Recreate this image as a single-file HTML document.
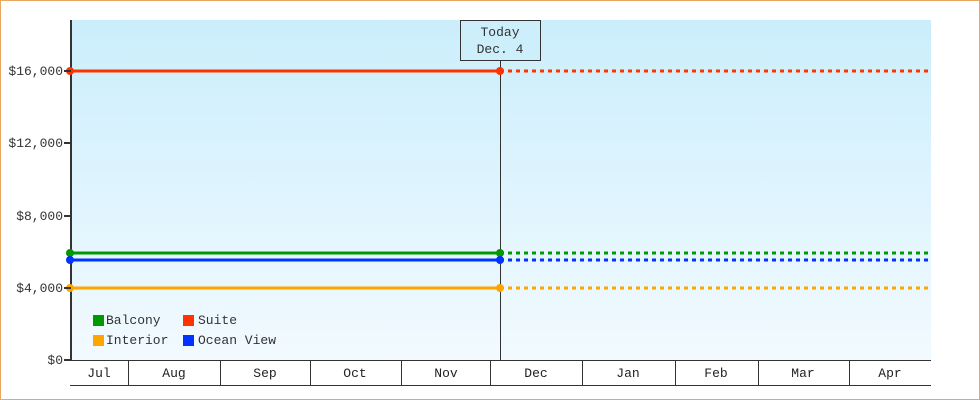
<!DOCTYPE html><html><head><style>body{margin:0}svg{display:block}</style></head><body>
<svg width="980" height="400" xmlns="http://www.w3.org/2000/svg" font-family="Liberation Mono, monospace" font-size="13">
<defs><linearGradient id="g" x1="0" y1="0" x2="0" y2="1"><stop offset="0" stop-color="#cbeefc"/><stop offset="1" stop-color="#f2faff"/></linearGradient></defs>
<rect x="0.5" y="0.5" width="979" height="399" fill="#fff" stroke="#e8a860"/>
<rect x="71" y="20" width="860" height="340" fill="url(#g)"/>
<line x1="71" y1="20" x2="71" y2="361" stroke="#333" stroke-width="2"/>
<g stroke-width="3" fill="none">
<line x1="71" y1="71" x2="500" y2="71" stroke="#ff3300"/>
<line x1="500" y1="71" x2="931" y2="71" stroke="#ff3300" stroke-dasharray="4 4"/>
<line x1="71" y1="253" x2="500" y2="253" stroke="#009900"/>
<line x1="500" y1="253" x2="931" y2="253" stroke="#009900" stroke-dasharray="4 4"/>
<line x1="71" y1="260" x2="500" y2="260" stroke="#0033ff"/>
<line x1="500" y1="260" x2="931" y2="260" stroke="#0033ff" stroke-dasharray="4 4"/>
<line x1="71" y1="288" x2="500" y2="288" stroke="#ffa500"/>
<line x1="500" y1="288" x2="931" y2="288" stroke="#ffa500" stroke-dasharray="4 4"/>
</g>
<line x1="500.5" y1="60" x2="500.5" y2="360" stroke="#333"/>
<g><circle cx="70" cy="71" r="4" fill="#ff3300"/><circle cx="500" cy="71" r="4" fill="#ff3300"/>
<circle cx="70" cy="253" r="4" fill="#009900"/><circle cx="500" cy="253" r="4" fill="#009900"/>
<circle cx="70" cy="260" r="4" fill="#0033ff"/><circle cx="500" cy="260" r="4" fill="#0033ff"/>
<circle cx="70" cy="288" r="4" fill="#ffa500"/><circle cx="500" cy="288" r="4" fill="#ffa500"/></g>
<rect x="460.5" y="20.5" width="80" height="40" fill="#cdeffc" stroke="#333"/>
<text x="500" y="36" text-anchor="middle" fill="#333">Today</text>
<text x="500" y="53" text-anchor="middle" fill="#333">Dec. 4</text>
<line x1="70" y1="360.5" x2="931" y2="360.5" stroke="#333"/>
<line x1="70" y1="385.5" x2="931" y2="385.5" stroke="#333"/>
<g stroke="#333" stroke-width="2"><line x1="64" y1="71" x2="71" y2="71"/><line x1="64" y1="143" x2="71" y2="143"/><line x1="64" y1="216" x2="71" y2="216"/><line x1="64" y1="288" x2="71" y2="288"/><line x1="64" y1="360" x2="71" y2="360"/></g>
<g text-anchor="end" fill="#333"><text x="63" y="75">$16,000</text><text x="63" y="147">$12,000</text><text x="63" y="220">$8,000</text><text x="63" y="292">$4,000</text><text x="63" y="364">$0</text></g>
<g stroke="#333"><line x1="128.5" y1="360" x2="128.5" y2="385"/><line x1="220.5" y1="360" x2="220.5" y2="385"/><line x1="310.5" y1="360" x2="310.5" y2="385"/><line x1="401.5" y1="360" x2="401.5" y2="385"/><line x1="490.5" y1="360" x2="490.5" y2="385"/><line x1="582.5" y1="360" x2="582.5" y2="385"/><line x1="675.5" y1="360" x2="675.5" y2="385"/><line x1="758.5" y1="360" x2="758.5" y2="385"/><line x1="849.5" y1="360" x2="849.5" y2="385"/></g>
<g text-anchor="middle" fill="#222"><text x="99" y="377">Jul</text><text x="174" y="377">Aug</text><text x="265" y="377">Sep</text><text x="355" y="377">Oct</text><text x="446" y="377">Nov</text><text x="536" y="377">Dec</text><text x="628" y="377">Jan</text><text x="716" y="377">Feb</text><text x="803" y="377">Mar</text><text x="890" y="377">Apr</text></g>
<rect x="93" y="315" width="11" height="11" fill="#009900"/><text x="106" y="324" fill="#333">Balcony</text>
<rect x="183" y="315" width="11" height="11" fill="#ff3300"/><text x="198" y="324" fill="#333">Suite</text>
<rect x="93" y="335" width="11" height="11" fill="#ffa500"/><text x="106" y="344" fill="#333">Interior</text>
<rect x="183" y="335" width="11" height="11" fill="#0033ff"/><text x="198" y="344" fill="#333">Ocean View</text>
</svg></body></html>
